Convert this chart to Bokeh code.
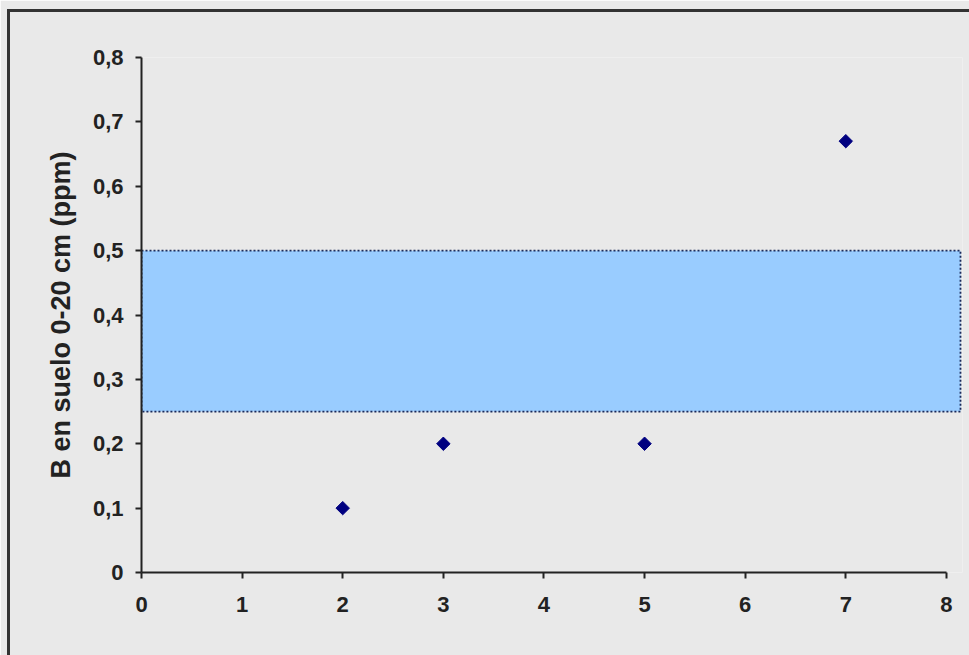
import math
from bokeh.plotting import figure
from bokeh.models import FixedTicker, Range1d, InlineStyleSheet
from bokeh.embed import file_html
from bokeh.resources import INLINE

# data
x_vals = [2, 3, 5, 7]
y_vals = [0.1, 0.2, 0.2, 0.67]
band_x = [0, 8.14]
band_y = [0.25, 0.5]
x_ticks = [0, 1, 2, 3, 4, 5, 6, 7, 8]
y_ticks = [0, 0.1, 0.2, 0.3, 0.4, 0.5, 0.6, 0.7, 0.8]
y_tick_labels = ["0", "0,1", "0,2", "0,3", "0,4", "0,5", "0,6", "0,7", "0,8"]
y_label = "B en suelo 0-20 cm (ppm)"

BG = "#e9e9e9"

p = figure(width=969, height=655, output_backend="svg", toolbar_location=None,
           x_range=Range1d(0, 8.16), y_range=Range1d(0, 0.8),
           min_border_left=141, min_border_right=7, min_border_top=57, min_border_bottom=83)
p.background_fill_color = BG
p.border_fill_color = BG
p.outline_line_color = None
p.xgrid.visible = False
p.ygrid.visible = False

# band
p.quad(left=[band_x[0]], right=[band_x[1]], bottom=[band_y[0]], top=[band_y[1]],
       fill_color="#99ccff", line_color="#1a2a5a", line_width=1.8, line_dash="2 2")

# points
p.scatter(x_vals, y_vals, marker="square", angle=math.pi / 4, size=9.5,
          fill_color="#000080", line_color="#000080")

for ax in (p.xaxis[0], p.yaxis[0]):
    ax.axis_line_color = "#222222"
    ax.axis_line_width = 2
    ax.major_tick_line_color = "#222222"
    ax.major_tick_line_width = 2
    ax.major_tick_out = 6
    ax.major_tick_in = 0
    ax.minor_tick_line_color = None
    ax.major_label_text_font = "Liberation Sans"
    ax.major_label_text_font_size = "22px"
    ax.major_label_text_font_style = "bold"
    ax.major_label_text_color = "#222222"

p.xaxis.ticker = FixedTicker(ticks=x_ticks)
p.xaxis.bounds = (0, 8)
p.xaxis.major_label_standoff = 18
p.yaxis.ticker = FixedTicker(ticks=y_ticks)
p.yaxis.major_label_overrides = {t: l for t, l in zip(y_ticks, y_tick_labels)}
p.yaxis.major_label_standoff = 12
p.yaxis.axis_label = y_label
p.yaxis.axis_label_text_font = "Liberation Sans"
p.yaxis.axis_label_text_font_size = "27px"
p.yaxis.axis_label_text_font_style = "bold"
p.yaxis.axis_label_text_color = "#222222"
p.yaxis.axis_label_standoff = 14

# outer chart border (drawn by CSS over the canvas)
p.stylesheets = [InlineStyleSheet(css="""
:host { position: relative; overflow: hidden; }
:host::after {
  content: ""; position: absolute; left: 7px; top: 9px; width: 1200px; height: 1200px;
  border: 3px solid #333333; pointer-events: none; z-index: 100;
}
""")]

open("out.html", "w").write(file_html(p, INLINE))
